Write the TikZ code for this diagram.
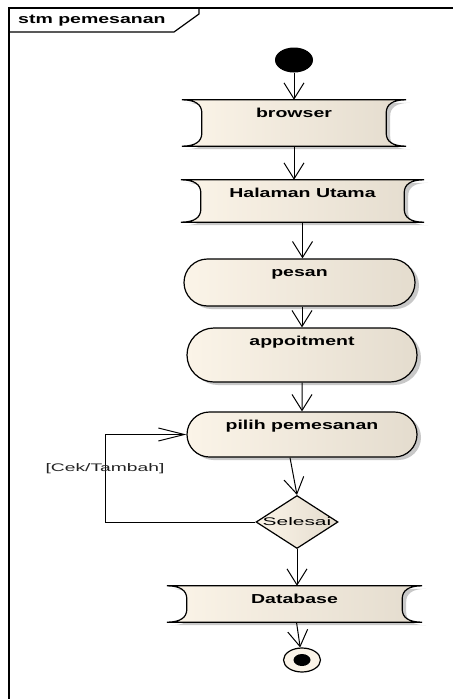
\documentclass[tikz,border=0pt]{standalone}
\usepackage{fontspec}
\setmainfont{Liberation Sans}
\usepackage{graphicx}
\usetikzlibrary{shapes.geometric,shapes.misc,shadows,arrows.meta,backgrounds,calc}

\definecolor{actleft}{RGB}{251,244,232}
\definecolor{actright}{RGB}{228,220,206}
\definecolor{shadowgray}{RGB}{200,200,200}
\definecolor{guardgray}{RGB}{35,35,35}

% stretched labels
\newcommand{\bname}[1]{\scalebox{1.5}[1]{\bfseries\fontsize{13}{15}\selectfont #1}}
\newcommand{\pname}[2][1.75]{\scalebox{#1}[1]{\fontsize{11}{13}\selectfont #2}}

% screen box outline round a named node
\newcommand{\screenshape}[1]{%
  \fill[shadowgray, transform canvas={xshift=4pt, yshift=-3pt}]
    (#1.north west) -- (#1.north east)
    .. controls ($(#1.north east)+(-14,0)$) and ($(#1.north east)+(-20,5)$) .. ($(#1.north east)+(-20,13)$)
    -- ($(#1.south east)+(-20,-13)$)
    .. controls ($(#1.south east)+(-20,-5)$) and ($(#1.south east)+(-14,0)$) .. (#1.south east)
    -- (#1.south west)
    .. controls ($(#1.south west)+(14,0)$) and ($(#1.south west)+(20,-5)$) .. ($(#1.south west)+(20,-13)$)
    -- ($(#1.north west)+(20,13)$)
    .. controls ($(#1.north west)+(20,5)$) and ($(#1.north west)+(14,0)$) .. cycle;
  \shadedraw[left color=actleft, right color=actright, line width=1.2pt]
    (#1.north west) -- (#1.north east)
    .. controls ($(#1.north east)+(-14,0)$) and ($(#1.north east)+(-20,5)$) .. ($(#1.north east)+(-20,13)$)
    -- ($(#1.south east)+(-20,-13)$)
    .. controls ($(#1.south east)+(-20,-5)$) and ($(#1.south east)+(-14,0)$) .. (#1.south east)
    -- (#1.south west)
    .. controls ($(#1.south west)+(14,0)$) and ($(#1.south west)+(20,-5)$) .. ($(#1.south west)+(20,-13)$)
    -- ($(#1.north west)+(20,13)$)
    .. controls ($(#1.north west)+(20,5)$) and ($(#1.north west)+(14,0)$) .. cycle;
}

\tikzset{
  act/.style={rounded rectangle, draw, line width=1.2pt,
    left color=actleft, right color=actright,
    drop shadow={shadow xshift=4pt, shadow yshift=-3pt, fill=shadowgray, opacity=1},
    inner sep=0pt, text height=17pt},
  screen/.style={rectangle, inner sep=0pt, text height=17pt},
  flow/.style={-{Straight Barb[length=16pt,width=20pt]}, line width=1pt},
  hflow/.style={-{Straight Barb[length=26pt,width=13pt]}, line width=1pt},
}

\begin{document}
\begin{tikzpicture}[x=1pt,y=-1pt]
  \useasboundingbox (0,0) rectangle (453,699);

  % frame
  \draw[line width=1.6pt] (9,699) -- (9,8) -- (453,8);
  \draw[line width=1.2pt] (9,32) -- (174,32) -- (199,14) -- (199,8);
  \node[anchor=west, inner sep=0pt] (title) at (18,21) {\bname{stm pemesanan}};

  \node[ellipse, fill=black, minimum width=38pt, minimum height=25pt, inner sep=0pt] (start) at (294,60) {};
  \node[screen, minimum width=224pt, text depth=29pt] (browser) at (294,123) {\bname{browser}};
  \node[screen, minimum width=243pt, text depth=25pt] (halaman) at (302.5,201) {\bname{Halaman Utama}};
  \node[act, minimum width=231pt, text depth=30pt] (pesan) at (299.5,282.5) {\bname{pesan}};
  \node[act, minimum width=230pt, text depth=37pt] (appoit) at (302,355) {\bname{appoitment}};
  \node[act, minimum width=230pt, text depth=28pt] (pilih) at (302,434.5) {\bname{pilih pemesanan}};
  \node[diamond, draw, line width=1.2pt, left color=actleft, right color=actright,
        minimum width=82pt, minimum height=53pt, inner sep=0pt,
        label={center:\pname[1.9]{Selesai}}] (sel) at (297,522) {};
  \node[screen, minimum width=255pt, text depth=19pt] (db) at (294.5,604) {\bname{Database}};
  \node[ellipse, draw, line width=1.2pt, fill=actleft, minimum width=37pt, minimum height=24pt, inner sep=0pt] (stop) at (302,660) {};
  \fill (stop.center) ellipse [x radius=8.5, y radius=6];

  \begin{scope}[on background layer]
    \screenshape{browser}
    \screenshape{halaman}
    \screenshape{db}
  \end{scope}

  \draw[flow] (start) -- (start |- browser.north);
  \draw[flow] (browser.south) -- (browser.south |- halaman.north);
  \draw[flow] (halaman.south) -- (halaman.south |- pesan.north);
  \draw[flow] (pesan.south -| appoit.north) -- (appoit.north);
  \draw[flow] (appoit) -- (pilih);
  \draw[flow] ([xshift=-12pt]pilih.south) -- (sel.north);
  \draw[flow] (sel.south) -- (sel.south |- db.north);
  \draw[flow] ([xshift=2pt]db.south) -- (stop);

  \coordinate (bend) at (105,522);
  \draw[hflow] (sel.west) -- (bend) |- (pilih.west);
  \node[text=guardgray, inner sep=0pt] (guard) at (105,469) {\pname{[Cek/Tambah]}};
\end{tikzpicture}
\end{document}
